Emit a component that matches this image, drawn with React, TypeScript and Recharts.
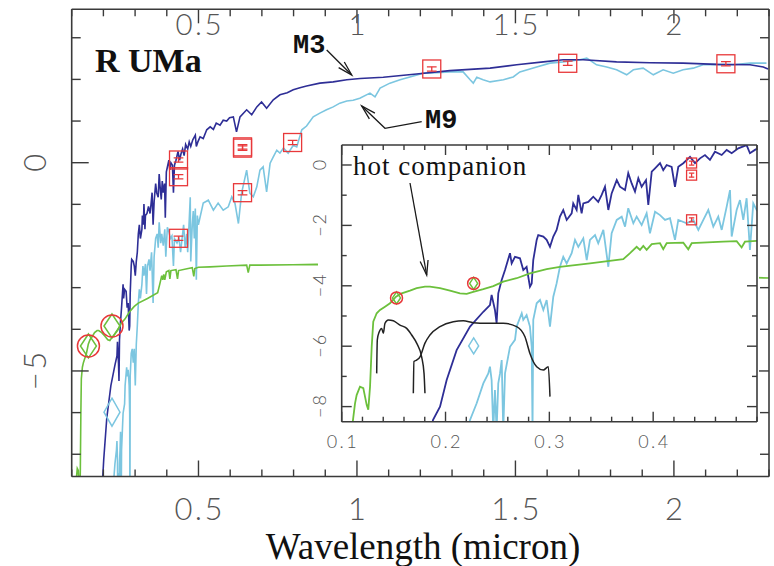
import React from 'react';
import { ComposedChart, Line, Scatter, XAxis, YAxis } from 'recharts';

// ---------- data (wavelength in micron, log flux) ----------
const M3_SPECTRUM: [number, number][] = [
  [0.185, -8.9], [0.188, -8.44], [0.1947, -8.0], [0.2011, -7.12], [0.2107, -6.13], [0.2236, -5.35],
  [0.2364, -4.86], [0.2428, -4.64], [0.2444, -4.3], [0.2476, -4.8], [0.2492, -5.24], [0.2508, -4.25],
  [0.2541, -3.81], [0.2573, -3.48], [0.2621, -2.92], [0.2637, -3.26], [0.2669, -3.04], [0.2717, -3.09],
  [0.2749, -3.48], [0.2781, -3.37], [0.2813, -4.03], [0.283, -3.92], [0.2845, -3.15], [0.2878, -2.48],
  [0.2893, -2.32], [0.2942, -2.37], [0.2974, -2.48], [0.3006, -2.71], [0.3038, -2.37], [0.307, -2.15],
  [0.3102, -1.71], [0.3134, -1.49], [0.3167, -1.82], [0.3215, -1.6], [0.323, -1.27], [0.3263, -1.49],
  [0.3279, -0.99], [0.3311, -1.6], [0.3327, -1.27], [0.3375, -1.22], [0.3423, -1.05], [0.3471, -1.22],
  [0.3504, -0.99], [0.3536, -0.72], [0.3568, -1.49], [0.36, -0.94], [0.3649, -0.5], [0.368, -0.72],
  [0.3729, -0.83], [0.376, -0.27], [0.3793, -0.61], [0.3825, -0.88], [0.3857, -0.44], [0.3889, -0.72],
  [0.3931, -0.5], [0.3953, -1.32], [0.3986, -0.22], [0.4018, -0.11], [0.4066, 0.06], [0.4097, -0.17],
  [0.413, 0.0], [0.4178, -0.06], [0.421, -0.72], [0.4242, -0.06], [0.429, 0.06], [0.4355, 0.27],
  [0.4403, 0.06], [0.4451, 0.22], [0.4499, 0.33], [0.4547, 0.17], [0.4595, 0.44], [0.466, 0.33],
  [0.4708, 0.5], [0.4756, 0.39], [0.482, 0.55], [0.49, 0.66], [0.4932, 0.39], [0.498, 0.5],
  [0.505, 0.62], [0.515, 0.58], [0.526, 0.79], [0.537, 0.86], [0.547, 0.8], [0.556, 0.95],
  [0.568, 0.9], [0.578, 1.02], [0.589, 1.0], [0.598, 1.08], [0.61, 1.1], [0.62, 0.74],
  [0.631, 1.1], [0.652, 1.27], [0.668, 1.15], [0.684, 1.34], [0.699, 1.46], [0.715, 1.31],
  [0.736, 1.51], [0.757, 1.63], [0.78, 1.68], [0.799, 1.75], [0.82, 1.8], [0.841, 1.84],
  [0.883, 1.91], [0.925, 1.94], [0.968, 1.99], [1.01, 2.02], [1.083, 2.05], [1.188, 2.13],
  [1.293, 2.21], [1.42, 2.27], [1.504, 2.35], [1.588, 2.42], [1.651, 2.47], [1.714, 2.47],
  [1.819, 2.42], [1.924, 2.4], [2.029, 2.39], [2.135, 2.36], [2.24, 2.35], [2.282, 2.3], [2.297, 2.25],
];

const M9_SPECTRUM: [number, number][] = [
  [0.221, -8.9], [0.2236, -8.44], [0.23, -7.89], [0.2364, -7.23], [0.2412, -6.9], [0.2428, -6.68],
  [0.2444, -7.12], [0.246, -8.8], [0.2476, -7.45], [0.2492, -8.8], [0.2508, -7.23], [0.2525, -6.9],
  [0.2541, -6.46], [0.2556, -8.8], [0.2573, -6.9], [0.2621, -6.02], [0.2669, -5.79], [0.2685, -5.35],
  [0.2734, -4.91], [0.2749, -5.13], [0.2781, -4.97], [0.2813, -5.35], [0.283, -6.02], [0.2838, -8.8],
  [0.2845, -5.13], [0.2878, -4.58], [0.291, -4.47], [0.2942, -4.8], [0.2974, -4.47], [0.3006, -5.35],
  [0.3038, -4.36], [0.307, -3.92], [0.3102, -3.37], [0.3134, -3.04], [0.3167, -3.26], [0.3215, -2.92],
  [0.3247, -2.48], [0.3279, -2.71], [0.3327, -2.43], [0.336, -3.15], [0.3391, -2.48], [0.344, -2.32],
  [0.3471, -2.59], [0.352, -2.15], [0.3568, -3.37], [0.36, -2.26], [0.3649, -1.82], [0.3697, -1.71],
  [0.3729, -2.04], [0.376, -1.43], [0.3809, -1.93], [0.3841, -1.71], [0.3889, -1.99], [0.3937, -1.6],
  [0.3969, -2.26], [0.4018, -1.55], [0.4066, -1.66], [0.4114, -1.82], [0.4162, -1.76], [0.421, -2.48],
  [0.4242, -1.82], [0.4323, -1.93], [0.4387, -1.82], [0.4435, -2.15], [0.4483, -1.82], [0.4531, -1.49],
  [0.4579, -2.04], [0.4627, -1.71], [0.466, -2.15], [0.4708, -1.38], [0.474, -0.83], [0.4756, -2.37],
  [0.4804, -1.49], [0.4836, -1.16], [0.4868, -1.82], [0.49, -1.1], [0.4932, -2.81], [0.4964, -1.27],
  [0.4997, -1.49], [0.515, -0.97], [0.531, -0.9], [0.547, -1.14], [0.562, -0.97], [0.578, -1.14],
  [0.594, -1.06], [0.605, -0.82], [0.615, -0.97], [0.626, -1.46], [0.636, -0.73], [0.652, -0.18],
  [0.662, -0.73], [0.673, -0.82], [0.684, -0.58], [0.694, -0.18], [0.704, -0.1], [0.715, -0.7],
  [0.726, -0.01], [0.736, 0.14], [0.747, 0.3], [0.757, 0.23], [0.768, 0.35], [0.783, 0.23],
  [0.799, 0.42], [0.81, 0.38], [0.826, 0.79], [0.841, 0.88], [0.862, 1.1], [0.883, 1.19],
  [0.904, 1.27], [0.925, 1.34], [0.946, 1.43], [0.968, 1.48], [0.988, 1.5], [1.009, 1.55],
  [1.041, 1.67], [1.057, 1.58], [1.073, 1.79], [1.104, 1.91], [1.136, 1.99], [1.167, 2.06],
  [1.209, 2.15], [1.251, 2.16], [1.293, 2.18], [1.335, 2.18], [1.357, 1.99], [1.367, 1.91],
  [1.378, 2.05], [1.398, 1.99], [1.42, 1.94], [1.462, 1.99], [1.493, 2.06], [1.514, 2.18],
  [1.567, 2.3], [1.609, 2.39], [1.651, 2.42], [1.704, 2.47], [1.725, 2.51], [1.756, 2.35],
  [1.788, 2.3], [1.819, 2.23], [1.851, 2.11], [1.872, 2.23], [1.903, 2.27], [1.935, 2.11],
  [1.966, 2.23], [1.998, 2.15], [2.029, 2.23], [2.061, 2.27], [2.092, 2.35], [2.135, 2.36],
  [2.187, 2.35], [2.24, 2.39], [2.292, 2.39],
];

const HOT_SPECTRUM: [number, number][] = [
  [0.1096, -8.8], [0.1128, -7.9], [0.1144, -7.62], [0.1176, -7.34], [0.1208, -7.39], [0.1241, -7.95],
  [0.1256, -8.1], [0.1273, -7.34], [0.1289, -6.02], [0.1304, -5.19], [0.1337, -4.91], [0.1369, -4.8],
  [0.1417, -4.69], [0.1465, -4.58], [0.1523, -4.36], [0.1578, -4.25], [0.1658, -4.16], [0.1722, -4.08],
  [0.1802, -4.03], [0.185, -4.03], [0.1947, -4.08], [0.2043, -4.16], [0.2139, -4.25], [0.2204, -4.27],
  [0.2267, -4.2], [0.2364, -4.11], [0.246, -4.01], [0.2556, -3.86], [0.2685, -3.75], [0.2813, -3.59],
  [0.2974, -3.45], [0.3102, -3.37], [0.3391, -3.26], [0.3712, -3.12], [0.3777, -2.92], [0.3841, -2.71],
  [0.3873, -2.81], [0.3905, -2.68], [0.3937, -2.81], [0.3986, -2.62], [0.4066, -2.59], [0.4097, -2.79],
  [0.413, -2.59], [0.429, -2.57], [0.4338, -2.79], [0.4371, -2.59], [0.4675, -2.54], [0.4804, -2.52],
  [0.4852, -2.73], [0.4884, -2.54], [0.4997, -2.51], [0.536, -2.5], [0.589, -2.48], [0.652, -2.46],
  [0.657, -2.64], [0.662, -2.46], [0.694, -2.46], [0.798, -2.45], [0.873, -2.44], [1.0, -2.47],
  [1.5, -2.58], [2.0, -2.7], [2.3, -2.77],
];

const FUV_FILTER: [number, number][] = [
  [0.1337, -6.9], [0.1343, -5.79], [0.1362, -5.52], [0.1385, -5.41], [0.1401, -5.57], [0.1417, -5.24],
  [0.1449, -5.13], [0.1497, -5.16], [0.1561, -5.3], [0.1626, -5.41], [0.1674, -5.63], [0.1722, -5.9],
  [0.177, -6.35], [0.1793, -6.9], [0.1802, -7.56],
];

const NUV_FILTER: [number, number][] = [
  [0.169, -7.56], [0.1696, -6.51], [0.1722, -6.46], [0.1754, -6.35], [0.1802, -5.9], [0.185, -5.63],
  [0.1947, -5.35], [0.2075, -5.19], [0.2171, -5.16], [0.2267, -5.22], [0.2397, -5.24], [0.2556, -5.24],
  [0.2685, -5.35], [0.2765, -5.69], [0.2813, -6.24], [0.2878, -6.68], [0.2942, -6.79], [0.299, -6.68],
  [0.3006, -7.67],
];

const PHOT_SQUARES: [number, number][] = [
  [0.437, 0.065], [0.437, -0.336], [0.437, -1.815], [0.639, 0.38], [0.639, 0.35], [0.639, -0.72],
  [0.797, 0.485], [1.236, 2.25], [1.665, 2.387], [2.164, 2.375],
];
const GALEX_CIRCLES: [number, number][] = [[0.1528, -4.4], [0.2271, -3.92]];
const HOT_MODEL_DIAMONDS: [number, number][] = [[0.1528, -4.4], [0.2271, -3.92]];
const M9_MODEL_DIAMONDS: [number, number][] = [[0.2271, -5.99]];

const MAIN_X_TICKS = [0.1, 0.2, 0.3, 0.4, 0.5, 0.6, 0.7, 0.8, 0.9, 1, 1.1, 1.2, 1.3, 1.4, 1.5, 1.6, 1.7, 1.8, 1.9, 2, 2.1, 2.2, 2.3];
const MAIN_X_LABELS = [0.5, 1, 1.5, 2];
const MAIN_Y_TICKS = [-7, -6, -5, -4, -3, -2, -1, 0, 1, 2, 3];
const MAIN_Y_LABELS = [0, -5];
const INSET_X_TICKS = [0.1, 0.12, 0.14, 0.16, 0.18, 0.2, 0.22, 0.24, 0.26, 0.28, 0.3, 0.32, 0.34, 0.36, 0.38, 0.4, 0.42, 0.44, 0.46, 0.48, 0.5];
const INSET_X_LABELS = [0.1, 0.2, 0.3, 0.4];
const INSET_Y_TICKS = [-8, -7, -6, -5, -4, -3, -2, -1, 0];
const INSET_Y_LABELS = [0, -2, -4, -6, -8];

// ---------- style ----------
const FRAME = '#3a3a3a';
const LABEL = '#555555';
const DARK = '#2e2e96';
const LIGHT = '#7cc6e0';
const GREEN = '#6cc03c';
const RED = '#e8383a';
const SANS = 'Lato, "Liberation Sans", Arial, sans-serif';
const SERIF = '"Liberation Serif", "Times New Roman", serif';
const MONO = '"Liberation Mono", "DejaVu Sans Mono", monospace';

const pts = (a: [number, number][]) => a.map(([x, y]) => ({ x, y }));
const fmt = (v: number) => String(v).replace('-', '\u2212');

function xTick(labels: number[], side: 'bottom' | 'top', majorLen: number, minorLen: number,
  showLabels: boolean, labelDy: number, fontSize: number, spacing: number) {
  return (props: any) => {
    const { x, y, payload } = props;
    const v = payload.value;
    const major = labels.includes(v);
    const dir = side === 'bottom' ? -1 : 1;
    return (
      <g>
        <line x1={x} x2={x} y1={y} y2={y + dir * (major ? majorLen : minorLen)} stroke={FRAME} strokeWidth={1.4} />
        {showLabels && major ? (
          <text x={x} y={y + labelDy} dx={spacing / 2} textAnchor="middle" fontSize={fontSize}
            letterSpacing={spacing} fontFamily={SANS} fontWeight={300} fill={LABEL}>{fmt(v)}</text>
        ) : null}
      </g>
    );
  };
}

function yTick(labels: number[], side: 'left' | 'right', majorLen: number, minorLen: number,
  showLabels: boolean, labelDx: number, fontSize: number, spacing: number) {
  return (props: any) => {
    const { x, y, payload } = props;
    const v = payload.value;
    const major = labels.includes(v);
    const dir = side === 'left' ? 1 : -1;
    const lx = x + labelDx;
    return (
      <g>
        <line x1={x} x2={x + dir * (major ? majorLen : minorLen)} y1={y} y2={y} stroke={FRAME} strokeWidth={1.4} />
        {showLabels && major ? (
          <text x={lx} y={y} dy="0.36em" dx={spacing / 2} transform={`rotate(-90 ${lx} ${y})`} textAnchor="middle"
            fontSize={fontSize} letterSpacing={spacing} fontFamily={SANS} fontWeight={300} fill={LABEL}>{fmt(v)}</text>
        ) : null}
      </g>
    );
  };
}

const squareShape = (size: number) => (p: any) => {
  const { cx, cy } = p;
  const h = size / 2;
  const c = size * 0.27;
  const e = Math.max(2, size * 0.12);
  return (
    <g stroke={RED} strokeWidth={1.3} fill="none">
      <rect x={cx - h} y={cy - h} width={size} height={size} />
      <line x1={cx - c} x2={cx + c} y1={cy - e} y2={cy - e} />
      <line x1={cx - c} x2={cx + c} y1={cy + e} y2={cy + e} />
      <line x1={cx} x2={cx} y1={cy - e} y2={cy + e} />
    </g>
  );
};
const circleShape = (r: number) => (p: any) => (
  <circle cx={p.cx} cy={p.cy} r={r} stroke={RED} strokeWidth={1.5} fill="none" />
);
const diamondShape = (hw: number, hh: number, color: string) => (p: any) => (
  <polygon points={`${p.cx},${p.cy - hh} ${p.cx + hw},${p.cy} ${p.cx},${p.cy + hh} ${p.cx - hw},${p.cy}`}
    stroke={color} strokeWidth={1.5} fill="none" />
);

function Arrow({ path, head = 15, spread = 0.27 }: { path: [number, number][]; head?: number; spread?: number }) {
  const n = path.length;
  const [x1, y1] = path[n - 2];
  const [x2, y2] = path[n - 1];
  const a = Math.atan2(y2 - y1, x2 - x1);
  const w1 = `${x2 - head * Math.cos(a - spread)},${y2 - head * Math.sin(a - spread)}`;
  const w2 = `${x2 - head * Math.cos(a + spread)},${y2 - head * Math.sin(a + spread)}`;
  return (
    <g stroke="#1a1a1a" strokeWidth={1.3} fill="none">
      <polyline points={path.map((q) => q.join(',')).join(' ')} />
      <polyline points={`${w1} ${x2},${y2} ${w2}`} />
    </g>
  );
}

const M3 = pts(M3_SPECTRUM);
const M9 = pts(M9_SPECTRUM);
const HOT = pts(HOT_SPECTRUM);
const FUV = pts(FUV_FILTER);
const NUV = pts(NUV_FILTER);
const SQ = pts(PHOT_SQUARES);
const CIRC = pts(GALEX_CIRCLES);
const HOTD = pts(HOT_MODEL_DIAMONDS);
const M9D = pts(M9_MODEL_DIAMONDS);

const axisLine = { stroke: FRAME, strokeWidth: 1.6 };

function MainChart() {
  const xd: [number, number] = [0.1, 2.3];
  const yd: [number, number] = [-7.534, 3.683];
  return (
    <ComposedChart width={774} height={566} margin={{ top: 8.3, right: 4, bottom: 88.5, left: 70.7 }}>
      <XAxis xAxisId="b" orientation="bottom" type="number" dataKey="x" domain={xd} allowDataOverflow
        ticks={MAIN_X_TICKS} interval={0} height={1} tickLine={false} tickSize={0} tickMargin={0}
        axisLine={axisLine} tick={xTick(MAIN_X_LABELS, 'bottom', 16, 7, true, 43, 31, 2.5)} />
      <XAxis xAxisId="t" orientation="top" type="number" dataKey="x" domain={xd} allowDataOverflow
        ticks={MAIN_X_TICKS} interval={0} height={1} tickLine={false} tickSize={0} tickMargin={0}
        axisLine={axisLine} tick={xTick(MAIN_X_LABELS, 'top', 14, 7, true, 26, 29.5, 2.5)} />
      <YAxis yAxisId="l" orientation="left" type="number" dataKey="y" domain={yd} allowDataOverflow
        ticks={MAIN_Y_TICKS} interval={0} width={1} tickLine={false} tickSize={0} tickMargin={0}
        axisLine={axisLine} tick={yTick(MAIN_Y_LABELS, 'left', 17, 9, true, -37.2, 31, 2.5)} />
      <YAxis yAxisId="r" orientation="right" type="number" dataKey="y" domain={yd} allowDataOverflow
        ticks={MAIN_Y_TICKS} interval={0} width={1} tickLine={false} tickSize={0} tickMargin={0}
        axisLine={axisLine} tick={yTick(MAIN_Y_LABELS, 'right', 17, 9, false, 0, 31, 2)} />
      <Line xAxisId="b" yAxisId="l" data={M9} dataKey="y" type="linear" stroke={LIGHT} strokeWidth={1.6} dot={false} isAnimationActive={false} />
      <Line xAxisId="b" yAxisId="l" data={M3} dataKey="y" type="linear" stroke={DARK} strokeWidth={1.6} dot={false} isAnimationActive={false} />
      <Line xAxisId="b" yAxisId="l" data={HOT} dataKey="y" type="linear" stroke={GREEN} strokeWidth={1.6} dot={false} isAnimationActive={false} />
      <Scatter xAxisId="b" yAxisId="l" data={M9D} shape={diamondShape(8, 14, LIGHT)} isAnimationActive={false} />
      <Scatter xAxisId="b" yAxisId="l" data={HOTD} shape={diamondShape(8, 12, GREEN)} isAnimationActive={false} />
      <Scatter xAxisId="b" yAxisId="l" data={CIRC} shape={circleShape(11)} isAnimationActive={false} />
      <Scatter xAxisId="b" yAxisId="l" data={SQ} shape={squareShape(18)} isAnimationActive={false} />
    </ComposedChart>
  );
}

function InsetChart() {
  const xd: [number, number] = [0.1, 0.5];
  const yd: [number, number] = [-8.5, 0.662];
  return (
    <ComposedChart width={459} height={308} margin={{ top: 0, right: 1, bottom: 29.3, left: 40.7 }}>
      <XAxis xAxisId="b" orientation="bottom" type="number" dataKey="x" domain={xd} allowDataOverflow
        ticks={INSET_X_TICKS} interval={0} height={1} tickLine={false} tickSize={0} tickMargin={0}
        axisLine={axisLine} tick={xTick(INSET_X_LABELS, 'bottom', 10, 5, true, 26.6, 18, 2.5)} />
      <XAxis xAxisId="t" orientation="top" type="number" dataKey="x" domain={xd} allowDataOverflow
        ticks={INSET_X_TICKS} interval={0} height={1} tickLine={false} tickSize={0} tickMargin={0}
        axisLine={axisLine} tick={xTick(INSET_X_LABELS, 'top', 10, 5, false, 0, 18, 0)} />
      <YAxis yAxisId="l" orientation="left" type="number" dataKey="y" domain={yd} allowDataOverflow
        ticks={INSET_Y_TICKS} interval={0} width={1} tickLine={false} tickSize={0} tickMargin={0}
        axisLine={axisLine} tick={yTick(INSET_Y_LABELS, 'left', 10, 5, true, -21.7, 18, 2)} />
      <YAxis yAxisId="r" orientation="right" type="number" dataKey="y" domain={yd} allowDataOverflow
        ticks={INSET_Y_TICKS} interval={0} width={1} tickLine={false} tickSize={0} tickMargin={0}
        axisLine={axisLine} tick={yTick(INSET_Y_LABELS, 'right', 10, 5, false, 0, 18, 0)} />
      <Line xAxisId="b" yAxisId="l" data={M9} dataKey="y" type="linear" stroke={LIGHT} strokeWidth={1.8} dot={false} isAnimationActive={false} />
      <Line xAxisId="b" yAxisId="l" data={M3} dataKey="y" type="linear" stroke={DARK} strokeWidth={1.8} dot={false} isAnimationActive={false} />
      <Line xAxisId="b" yAxisId="l" data={FUV} dataKey="y" type="monotone" stroke="#222" strokeWidth={1.5} dot={false} isAnimationActive={false} />
      <Line xAxisId="b" yAxisId="l" data={NUV} dataKey="y" type="monotone" stroke="#222" strokeWidth={1.5} dot={false} isAnimationActive={false} />
      <Line xAxisId="b" yAxisId="l" data={HOT} dataKey="y" type="linear" stroke={GREEN} strokeWidth={1.8} dot={false} isAnimationActive={false} />
      <Scatter xAxisId="b" yAxisId="l" data={M9D} shape={diamondShape(5, 8, LIGHT)} isAnimationActive={false} />
      <Scatter xAxisId="b" yAxisId="l" data={HOTD} shape={diamondShape(4, 6, GREEN)} isAnimationActive={false} />
      <Scatter xAxisId="b" yAxisId="l" data={CIRC} shape={circleShape(6)} isAnimationActive={false} />
      <Scatter xAxisId="b" yAxisId="l" data={SQ} shape={squareShape(10)} isAnimationActive={false} />
    </ComposedChart>
  );
}

export default function App() {
  return (
    <div style={{ position: 'absolute', left: 0, top: 0, width: 774, height: 566, background: '#fff', overflow: 'hidden' }}>
      <div style={{ position: 'absolute', left: 0, top: 0 }}>
        <MainChart />
      </div>
      <div style={{ position: 'absolute', left: 318, top: 143, width: 441, height: 309, background: '#fff' }} />
      <div style={{ position: 'absolute', left: 300, top: 144 }}>
        <InsetChart />
      </div>
      <svg width={774} height={566} style={{ position: 'absolute', left: 0, top: 0, pointerEvents: 'none' }}>
        <text x={95} y={71.5} fontFamily={SERIF} fontWeight={700} fontSize={34} fill="#111">R UMa</text>
        <text x={293} y={53} fontFamily={MONO} fontWeight={700} fontSize={27} fill="#111">M3</text>
        <Arrow path={[[326.7, 50], [351.7, 75]]} />
        <text x={425} y={128} fontFamily={MONO} fontWeight={700} fontSize={27} fill="#111">M9</text>
        <Arrow path={[[421.7, 121.7], [385, 128.3], [361.7, 106]]} />
        <text x={353} y={175} fontFamily={SERIF} fontSize={27} letterSpacing={1} fill="#111">hot companion</text>
        <Arrow path={[[410, 183], [426.7, 275]]} />
        <text x={423} y={559} textAnchor="middle" fontFamily={SERIF} fontSize={37} fill="#111">Wavelength (micron)</text>
      </svg>
    </div>
  );
}
